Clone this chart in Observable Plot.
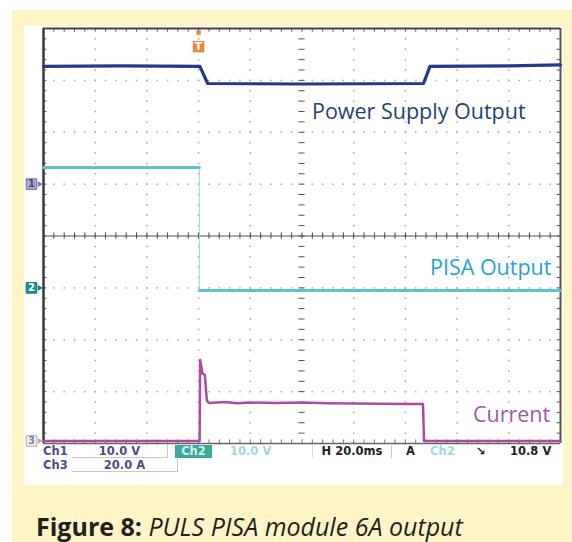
<!DOCTYPE html>
<html><head><meta charset="utf-8">
<script src="https://cdn.jsdelivr.net/npm/d3@7"></script>
<script src="https://cdn.jsdelivr.net/npm/@observablehq/plot@0.6"></script>
<style>
body{margin:0;background:#fff;width:572px;height:542px;position:relative;overflow:hidden;font-family:"Open Sans",sans-serif}
#cream{position:absolute;left:12px;top:10px;width:560px;height:532px;background:#fdf5c6}
#panel{position:absolute;left:24px;top:26px;width:539px;height:459px;background:#fff}
#chart{position:absolute;left:0;top:0}
#caption{position:absolute;left:36px;top:510px;font-size:25px;line-height:32px;color:#231f20;white-space:nowrap}
.st{position:absolute;font:bold 11.5px "DejaVu Sans",sans-serif;height:13px;line-height:13px;white-space:nowrap;box-sizing:border-box}
</style></head><body>
<div id="cream"></div><div id="panel"></div><div id="chart"></div><div id="status"></div>
<div id="caption"><b>Figure 8:</b> <i>PULS PISA module 6A output</i></div>
<script>
// ---- data (time in ms, 20 ms/div; Ch1, Ch2 in V; Ch3 in A) ----
const ch1Time  = [0, 30, 60.5, 63.5, 100, 147, 149.5, 180, 200];
const ch1Volts = [22.7, 22.8, 22.7, 19.4, 19.3, 19.4, 22.7, 22.8, 23.0];
const ch2Time  = [0, 60.3, 60.3, 200];
const ch2Volts = [23.2, 23.2, -0.5, -0.5];
const ch3Time  = [0, 60.4, 60.6, 61.5, 62.4, 63.2, 64, 70, 75, 80, 90, 100, 110, 120, 130, 140, 146.8, 147.2, 200];
const ch3Amps  = [0, 0, 31.2, 26, 25.5, 15.5, 14.6, 15.0, 14.5, 14.8, 14.6, 14.8, 14.5, 14.4, 14.3, 14.2, 14.2, 0, 0];
const channelNames = ["1", "2", "3"];
const traceLabels = ["Power Supply Output", "PISA Output", "Current"];
const statusRow1 = ["Ch1", "10.0 V", "Ch2", "10.0 V", "H 20.0ms", "A", "Ch2", "↘", "10.8 V"];
const statusRow2 = ["Ch3", "20.0 A"];
const triggerLabel = "T";

// channel scale (units/div) and ground offset (div)
const ch = [{scale: 10, off: 1.0}, {scale: 10, off: -1.0}, {scale: 20, off: -3.95}];
const toDiv = (c, v) => ch[c].off + v / ch[c].scale;

const data1 = ch1Time.map((t, i) => ({t, y: toDiv(0, ch1Volts[i])}));
const data2 = ch2Time.map((t, i) => ({t, y: toDiv(1, ch2Volts[i]), seg: i < 2 ? 0 : 1}));
const data3 = ch3Time.map((t, i) => ({t, y: toDiv(2, ch3Amps[i])}));

const minorX = d3.range(0, 200.01, 4);
const minorY = d3.range(-4, 4.001, 0.2);
const majorX = [20, 40, 60, 80, 120, 140, 160, 180];
const majorY = [-3, -2, -1, 1, 2, 3];
const gridDots = [
  ...majorX.flatMap(x => minorY.map(y => ({x, y}))),
  ...majorY.flatMap(y => minorX.map(x => ({x, y})))
];
const frame = "#3a3a3a";

const chart = Plot.plot({
  width: 572, height: 490,
  marginLeft: 43, marginRight: 12, marginTop: 28, marginBottom: 47,
  x: {domain: [0, 200], axis: null},
  y: {domain: [-4, 4], axis: null},
  style: {background: "transparent", overflow: "visible"},
  marks: [
    Plot.dot(gridDots, {x: "x", y: "y", r: 0.9, fill: "#b0b0b0", stroke: null}),
    // center cross
    Plot.ruleY([0], {stroke: "#555", strokeWidth: 1}),
    Plot.ruleX(minorX, {x: d => d, y1: -0.06, y2: 0.06, stroke: "#444"}),
    Plot.ruleY(minorY, {y: d => d, x1: 98.8, x2: 101.2, stroke: "#555"}),
    // frame ticks
    Plot.ruleY(minorY, {y: d => d, x1: 0, x2: 1.3, stroke: "#555"}),
    Plot.ruleY(minorY, {y: d => d, x1: 198.7, x2: 200, stroke: "#555"}),
    Plot.ruleX(minorX, {x: d => d, y1: 4, y2: 3.93, stroke: "#555"}),
    Plot.ruleX(minorX, {x: d => d, y1: -4, y2: -3.93, stroke: "#777"}),
    // frame
    Plot.ruleX([0], {stroke: frame, strokeWidth: 2.5}),
    Plot.ruleX([200], {stroke: "#555", strokeWidth: 2}),
    Plot.ruleY([4], {stroke: "#444", strokeWidth: 2}),
    Plot.ruleY([-4], {stroke: "#666", strokeWidth: 1.5}),
    // traces
    Plot.ruleX([ch2Time[1]], {x: d => d, y1: toDiv(1, ch2Volts[1]), y2: toDiv(1, ch2Volts[2]), stroke: "#9ad8de", strokeWidth: 1}),
    Plot.line(data2, {x: "t", y: "y", z: "seg", stroke: "#5cc3cd", strokeWidth: 3}),
    Plot.line(data1, {x: "t", y: "y", stroke: "#25398c", strokeWidth: 3.2}),
    Plot.line(data3, {x: "t", y: "y", stroke: "#b04a9e", strokeWidth: 2.5}),
    // trace labels
    Plot.text([traceLabels[0]], {x: 186.5, y: 2.39, text: d => d, textAnchor: "end", fill: "#1d4379", fontSize: 21.5, fontFamily: "Open Sans"}),
    Plot.text([traceLabels[1]], {x: 196.5, y: -0.62, text: d => d, textAnchor: "end", fill: "#1fa3d8", fontSize: 21.5, fontFamily: "Open Sans"}),
    Plot.text([traceLabels[2]], {x: 196, y: -3.45, text: d => d, textAnchor: "end", fill: "#9b5aa8", fontSize: 21.5, fontFamily: "Open Sans"}),
    // trigger marker
    Plot.dot([0], {x: 60, y: 3.92, r: 2.5, symbol: "square", fill: "#f08a3c"}),
    Plot.dot([0], {x: 60, y: 3.65, r: 6.5, symbol: "square", fill: "#f0883a"}),
    Plot.text([triggerLabel], {x: 60, y: 3.65, text: d => d, fill: "#fff", fontWeight: "bold", fontSize: 11, fontFamily: "DejaVu Sans"}),
    // channel ground markers
    Plot.dot(channelNames, {x: 0, y: (d, i) => ch[i].off, dx: -12, r: 6, symbol: "square",
      fill: ["#a9a6cc", "#1f8d8c", "#f4eef4"], stroke: ["#7a77a8", "#1a7a78", "#b8a8b8"], strokeWidth: 1}),
    Plot.text(channelNames, {x: 0, y: (d, i) => ch[i].off, dx: -12, text: d => d, fontWeight: "bold", fontSize: 10,
      fill: ["#4b4a88", "#ffffff", "#8a7a90"], fontFamily: "DejaVu Sans"}),
    Plot.dot(channelNames, {x: 0, y: (d, i) => ch[i].off, dx: -4, r: 2.2, symbol: "triangle",
      rotate: 90, fill: ["#7a77a8", "#1a7a78", "#b8a8b8"]})
  ]
});
document.getElementById("chart").append(chart);

// status bar
const st = document.getElementById("status");
function add(text, left, top, width, css) {
  const e = document.createElement("div");
  e.className = "st"; e.textContent = text;
  e.style.left = left + "px"; e.style.top = top + "px";
  if (width) { e.style.width = width + "px"; e.style.textAlign = "center"; }
  Object.assign(e.style, css || {});
  st.append(e);
}
const r1 = 445, r2 = 459;
add(statusRow1[0], 43, r1, 0, {color: "#4b4b8c"});
add(statusRow1[1], 72, r1, 96, {color: "#4b4b8c", borderRight: "1px solid #c8c8c8", borderBottom: "1px solid #c8c8c8"});
add(statusRow1[2], 175, r1, 37, {color: "#d4f0ec", background: "#3aa89f"});
add(statusRow1[3], 230, r1, 0, {color: "#9fd6d8"});
add(statusRow1[4], 312, r1, 80, {color: "#222", borderRight: "1px solid #c8c8c8", borderLeft: "1px solid #ddd"});
add(statusRow1[5], 406, r1, 0, {color: "#222"});
add(statusRow1[6], 430, r1, 0, {color: "#a6dada"});
add(statusRow1[7], 476, r1, 0, {color: "#222"});
add(statusRow1[8], 510, r1, 0, {color: "#222"});
add(statusRow2[0], 43, r2, 0, {color: "#4b4b8c"});
add(statusRow2[1], 72, r2, 106, {color: "#4b4b8c", borderRight: "1px solid #c8c8c8", borderBottom: "1px solid #c8c8c8"});
</script>
</body></html>
